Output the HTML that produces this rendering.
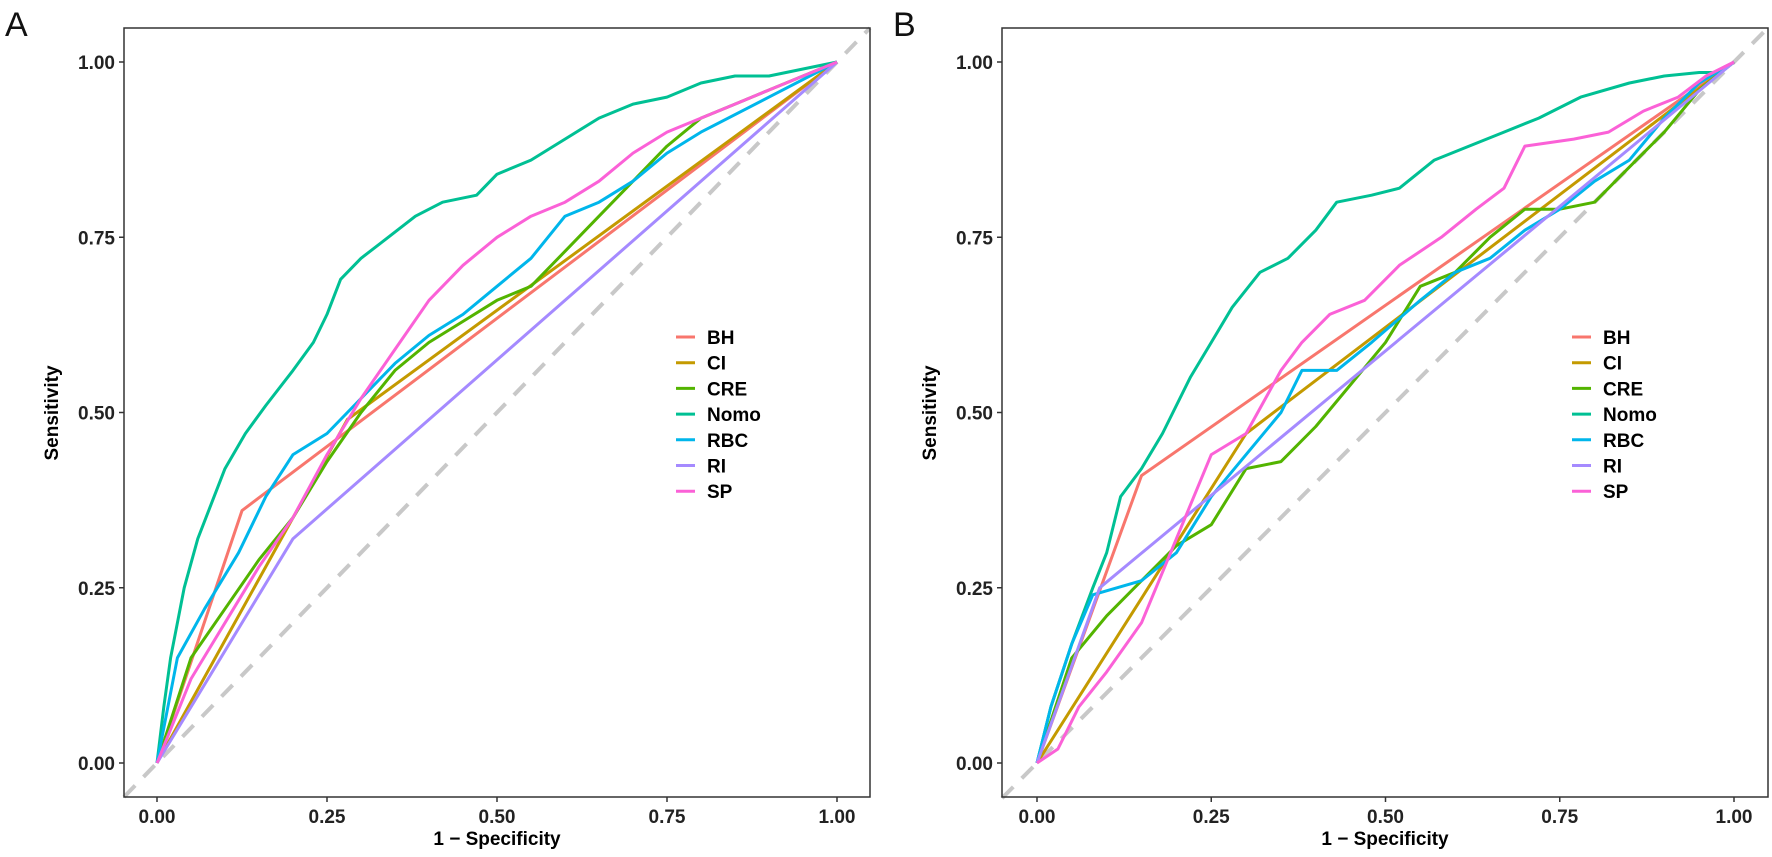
<!DOCTYPE html>
<html><head><meta charset="utf-8">
<style>
html,body{margin:0;padding:0;background:#fff;}
svg{display:block;font-family:"Liberation Sans",Arial,sans-serif;}
</style></head>
<body>
<svg id="chart" width="1772" height="857" viewBox="0 0 1772 857" xmlns="http://www.w3.org/2000/svg"></svg>
<script>
const seriesNames = ["BH","CI","CRE","Nomo","RBC","RI","SP"];
const seriesColors = ["#F8766D","#C49A00","#53B400","#00C094","#00B6EB","#A58AFF","#FB61D7"];
const tickValues = [0,0.25,0.5,0.75,1];
const tickLabels = ["0.00","0.25","0.50","0.75","1.00"];

// Panel A data: [fpr, tpr] pairs
const A_BH = [[0,0],[0.125,0.36],[1,1]];
const A_CI = [[0,0],[0.28,0.49],[1,1]];
const A_CRE = [[0,0],[0.05,0.15],[0.1,0.22],[0.15,0.29],[0.2,0.35],[0.25,0.43],[0.3,0.5],[0.35,0.56],[0.4,0.6],[0.45,0.63],[0.5,0.66],[0.55,0.68],[0.6,0.73],[0.65,0.78],[0.7,0.83],[0.75,0.88],[0.8,0.92],[0.85,0.94],[0.9,0.96],[1,1]];
const A_Nomo = [[0,0],[0.01,0.08],[0.02,0.15],[0.04,0.25],[0.06,0.32],[0.08,0.37],[0.1,0.42],[0.13,0.47],[0.16,0.51],[0.2,0.56],[0.23,0.6],[0.25,0.64],[0.27,0.69],[0.3,0.72],[0.34,0.75],[0.38,0.78],[0.42,0.8],[0.47,0.81],[0.5,0.84],[0.55,0.86],[0.6,0.89],[0.65,0.92],[0.7,0.94],[0.75,0.95],[0.8,0.97],[0.85,0.98],[0.9,0.98],[0.95,0.99],[1,1]];
const A_RBC = [[0,0],[0.03,0.15],[0.07,0.22],[0.12,0.3],[0.16,0.38],[0.2,0.44],[0.25,0.47],[0.3,0.52],[0.35,0.57],[0.4,0.61],[0.45,0.64],[0.5,0.68],[0.55,0.72],[0.6,0.78],[0.65,0.8],[0.7,0.83],[0.75,0.87],[0.8,0.9],[0.9,0.95],[1,1]];
const A_RI = [[0,0],[0.2,0.32],[1,1]];
const A_SP = [[0,0],[0.05,0.12],[0.1,0.2],[0.15,0.28],[0.2,0.35],[0.25,0.44],[0.3,0.52],[0.35,0.59],[0.4,0.66],[0.45,0.71],[0.5,0.75],[0.55,0.78],[0.6,0.8],[0.65,0.83],[0.7,0.87],[0.75,0.9],[0.8,0.92],[0.85,0.94],[0.9,0.96],[0.95,0.98],[1,1]];

// Panel B data
const B_BH = [[0,0],[0.15,0.41],[1,1]];
const B_CI = [[0,0],[0.3,0.47],[1,1]];
const B_CRE = [[0,0],[0.05,0.15],[0.1,0.21],[0.15,0.26],[0.2,0.31],[0.25,0.34],[0.3,0.42],[0.35,0.43],[0.4,0.48],[0.45,0.54],[0.5,0.6],[0.55,0.68],[0.6,0.7],[0.65,0.75],[0.7,0.79],[0.75,0.79],[0.8,0.8],[0.85,0.85],[0.9,0.9],[0.95,0.96],[1,1]];
const B_Nomo = [[0,0],[0.02,0.08],[0.05,0.17],[0.08,0.25],[0.1,0.3],[0.12,0.38],[0.15,0.42],[0.18,0.47],[0.22,0.55],[0.25,0.6],[0.28,0.65],[0.32,0.7],[0.36,0.72],[0.4,0.76],[0.43,0.8],[0.48,0.81],[0.52,0.82],[0.57,0.86],[0.62,0.88],[0.67,0.9],[0.72,0.92],[0.78,0.95],[0.85,0.97],[0.9,0.98],[0.95,0.985],[0.98,0.985],[1,1]];
const B_RBC = [[0,0],[0.02,0.08],[0.05,0.17],[0.08,0.24],[0.15,0.26],[0.2,0.3],[0.25,0.38],[0.3,0.44],[0.35,0.5],[0.38,0.56],[0.43,0.56],[0.48,0.6],[0.55,0.66],[0.6,0.7],[0.65,0.72],[0.7,0.76],[0.75,0.79],[0.8,0.83],[0.85,0.86],[0.9,0.92],[0.95,0.97],[1,1]];
const B_RI = [[0,0],[0.09,0.25],[1,1]];
const B_SP = [[0,0],[0.03,0.02],[0.06,0.08],[0.1,0.13],[0.15,0.2],[0.2,0.32],[0.25,0.44],[0.3,0.47],[0.35,0.56],[0.38,0.6],[0.42,0.64],[0.47,0.66],[0.52,0.71],[0.58,0.75],[0.63,0.79],[0.67,0.82],[0.7,0.88],[0.77,0.89],[0.82,0.9],[0.87,0.93],[0.92,0.95],[0.96,0.98],[1,1]];

const panelASeries = [A_BH,A_CI,A_CRE,A_Nomo,A_RBC,A_RI,A_SP];
const panelBSeries = [B_BH,B_CI,B_CRE,B_Nomo,B_RBC,B_RI,B_SP];

const NS = "http://www.w3.org/2000/svg";
const svg = document.getElementById("chart");
function mk(tag, attrs, parent){
  const e = document.createElementNS(NS, tag);
  for (const k in attrs) e.setAttribute(k, attrs[k]);
  (parent||svg).appendChild(e);
  return e;
}

function drawPanel(letter, letterX, box, x0, x1, legendX, series){
  const y0 = 763, y1 = 62;
  const sx = v => x0 + v*(x1-x0);
  const sy = v => y0 - v*(y0-y1);
  const g = mk("g", {});
  
  

  const lt = mk("text", {x:letterX, y:36, "font-size":34, fill:"#111"}, g);
  lt.textContent = letter;
  
  

  // diagonal reference
  const dg = mk("line", {x1:box.l, y1:box.b, x2:box.r, y2:box.t + 0, stroke:"#C8C8C8", "stroke-width":4, "stroke-dasharray":"16,12"}, g);
  // compute diagonal through (0,0)-(1,1) extended to box
  const vl = (box.l - x0)/(x1-x0), vr = (box.r - x0)/(x1-x0);
  dg.setAttribute("x1", box.l); dg.setAttribute("y1", sy(vl));
  dg.setAttribute("x2", box.r); dg.setAttribute("y2", sy(vr));
  
  

  series.forEach((pts, i) => {
    const p = mk("polyline", {points: pts.map(d => sx(d[0]).toFixed(1)+","+sy(d[1]).toFixed(1)).join(" "), fill:"none", stroke:seriesColors[i], "stroke-width":3, "stroke-linejoin":"round"}, g);
    
    
  });

  const fr = mk("rect", {x:box.l, y:box.t, width:box.r-box.l, height:box.b-box.t, fill:"none", stroke:"#333", "stroke-width":1.5}, g);
  
  

  tickValues.forEach((v, i) => {
    const ty = sy(v);
    mk("line", {x1:box.l-5, y1:ty, x2:box.l, y2:ty, stroke:"#333", "stroke-width":1.5}, g);
    const t = mk("text", {x:box.l-9, y:ty+7, "text-anchor":"end", "font-size":19, "font-weight":"bold", fill:"#222"}, g);
    t.textContent = tickLabels[i];
    
    
    const tx = sx(v);
    mk("line", {x1:tx, y1:box.b, x2:tx, y2:box.b+5, stroke:"#333", "stroke-width":1.5}, g);
    const u = mk("text", {x:tx, y:box.b+26, "text-anchor":"middle", "font-size":19, "font-weight":"bold", fill:"#222"}, g);
    u.textContent = tickLabels[i];
    
    
  });

  const xt = mk("text", {x:(box.l+box.r)/2, y:845, "text-anchor":"middle", "font-size":19, "font-weight":"bold", fill:"#000"}, g);
  xt.textContent = "1 \u2212 Specificity";
  
  
  const yx = box.l - 66;
  const yt = mk("text", {x:yx, y:413, "text-anchor":"middle", "font-size":19, "font-weight":"bold", fill:"#000", transform:"rotate(-90 "+yx+" 413)"}, g);
  yt.textContent = "Sensitivity";
  
  

  seriesNames.forEach((n, i) => {
    const ly = 337 + i*25.7;
    const k = mk("line", {x1:legendX, y1:ly, x2:legendX+19, y2:ly, stroke:seriesColors[i], "stroke-width":3}, g);
    
    
    const t = mk("text", {x:legendX+31, y:ly+7, "font-size":19, "font-weight":"bold", fill:"#000"}, g);
    t.textContent = n;
    
    
  });
}

drawPanel("A", 5, {l:124, r:870, t:28, b:797}, 157, 837, 676, panelASeries);
drawPanel("B", 893, {l:1002, r:1768, t:28, b:797}, 1037, 1734, 1572, panelBSeries);
</script>
</body></html>
